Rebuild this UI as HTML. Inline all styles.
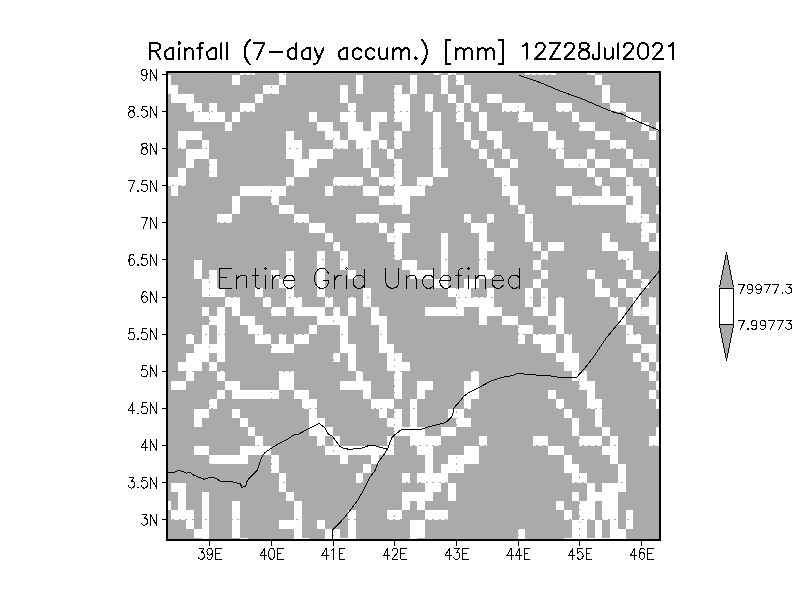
<!DOCTYPE html>
<html><head><meta charset="utf-8"><style>
html,body{margin:0;padding:0;background:#fff;width:792px;height:612px;overflow:hidden}
svg{display:block}
text{font-family:"Liberation Sans",sans-serif;fill:#000}
</style></head><body>
<svg width="792" height="612" viewBox="0 0 792 612">
<rect x="0" y="0" width="792" height="612" fill="#fff"/>
<rect x="168" y="73" width="491" height="466" fill="#aaaaaa"/>
<rect x="168" y="538" width="491" height="1" fill="#afafaf"/>
<rect x="168" y="73" width="491" height="1" fill="#afafaf"/>
<g fill="#fff" shape-rendering="crispEdges">
<rect x="240" y="73" width="15" height="2"/>
<rect x="279" y="73" width="7" height="2"/>
<rect x="433" y="73" width="8" height="2"/>
<rect x="448" y="73" width="8" height="2"/>
<rect x="525" y="73" width="31" height="2"/>
<rect x="587" y="73" width="8" height="2"/>
<rect x="168" y="75" width="3" height="10"/>
<rect x="232" y="75" width="8" height="10"/>
<rect x="279" y="75" width="7" height="10"/>
<rect x="356" y="75" width="7" height="10"/>
<rect x="410" y="75" width="7" height="10"/>
<rect x="441" y="75" width="7" height="10"/>
<rect x="456" y="75" width="8" height="10"/>
<rect x="595" y="75" width="7" height="10"/>
<rect x="168" y="85" width="10" height="9"/>
<rect x="263" y="85" width="16" height="9"/>
<rect x="340" y="85" width="8" height="9"/>
<rect x="356" y="85" width="7" height="9"/>
<rect x="394" y="85" width="8" height="9"/>
<rect x="410" y="85" width="7" height="9"/>
<rect x="441" y="85" width="7" height="9"/>
<rect x="464" y="85" width="7" height="9"/>
<rect x="602" y="85" width="8" height="9"/>
<rect x="171" y="94" width="23" height="9"/>
<rect x="255" y="94" width="8" height="9"/>
<rect x="340" y="94" width="8" height="9"/>
<rect x="394" y="94" width="16" height="9"/>
<rect x="425" y="94" width="8" height="9"/>
<rect x="448" y="94" width="8" height="9"/>
<rect x="464" y="94" width="7" height="9"/>
<rect x="487" y="94" width="15" height="9"/>
<rect x="602" y="94" width="8" height="9"/>
<rect x="186" y="103" width="16" height="9"/>
<rect x="209" y="103" width="8" height="9"/>
<rect x="240" y="103" width="15" height="9"/>
<rect x="348" y="103" width="8" height="9"/>
<rect x="394" y="103" width="16" height="9"/>
<rect x="425" y="103" width="8" height="9"/>
<rect x="456" y="103" width="8" height="9"/>
<rect x="471" y="103" width="8" height="9"/>
<rect x="502" y="103" width="23" height="9"/>
<rect x="556" y="103" width="16" height="9"/>
<rect x="610" y="103" width="16" height="9"/>
<rect x="194" y="112" width="31" height="10"/>
<rect x="232" y="112" width="8" height="10"/>
<rect x="309" y="112" width="8" height="10"/>
<rect x="340" y="112" width="16" height="10"/>
<rect x="371" y="112" width="16" height="10"/>
<rect x="394" y="112" width="16" height="10"/>
<rect x="433" y="112" width="8" height="10"/>
<rect x="456" y="112" width="8" height="10"/>
<rect x="479" y="112" width="8" height="10"/>
<rect x="518" y="112" width="15" height="10"/>
<rect x="572" y="112" width="7" height="10"/>
<rect x="626" y="112" width="15" height="10"/>
<rect x="225" y="122" width="7" height="9"/>
<rect x="317" y="122" width="16" height="9"/>
<rect x="348" y="122" width="15" height="9"/>
<rect x="371" y="122" width="8" height="9"/>
<rect x="402" y="122" width="8" height="9"/>
<rect x="433" y="122" width="8" height="9"/>
<rect x="464" y="122" width="7" height="9"/>
<rect x="479" y="122" width="8" height="9"/>
<rect x="533" y="122" width="15" height="9"/>
<rect x="579" y="122" width="16" height="9"/>
<rect x="641" y="122" width="8" height="9"/>
<rect x="656" y="122" width="3" height="9"/>
<rect x="178" y="131" width="24" height="9"/>
<rect x="286" y="131" width="8" height="9"/>
<rect x="325" y="131" width="15" height="9"/>
<rect x="348" y="131" width="31" height="9"/>
<rect x="394" y="131" width="8" height="9"/>
<rect x="433" y="131" width="8" height="9"/>
<rect x="464" y="131" width="7" height="9"/>
<rect x="487" y="131" width="15" height="9"/>
<rect x="548" y="131" width="8" height="9"/>
<rect x="595" y="131" width="15" height="9"/>
<rect x="649" y="131" width="7" height="9"/>
<rect x="178" y="140" width="8" height="9"/>
<rect x="202" y="140" width="7" height="9"/>
<rect x="286" y="140" width="16" height="9"/>
<rect x="333" y="140" width="15" height="9"/>
<rect x="356" y="140" width="15" height="9"/>
<rect x="379" y="140" width="8" height="9"/>
<rect x="394" y="140" width="8" height="9"/>
<rect x="433" y="140" width="8" height="9"/>
<rect x="471" y="140" width="8" height="9"/>
<rect x="494" y="140" width="8" height="9"/>
<rect x="548" y="140" width="16" height="9"/>
<rect x="610" y="140" width="16" height="9"/>
<rect x="186" y="149" width="23" height="10"/>
<rect x="286" y="149" width="16" height="10"/>
<rect x="309" y="149" width="24" height="10"/>
<rect x="363" y="149" width="8" height="10"/>
<rect x="387" y="149" width="7" height="10"/>
<rect x="433" y="149" width="8" height="10"/>
<rect x="479" y="149" width="8" height="10"/>
<rect x="502" y="149" width="8" height="10"/>
<rect x="556" y="149" width="8" height="10"/>
<rect x="587" y="149" width="8" height="10"/>
<rect x="626" y="149" width="7" height="10"/>
<rect x="186" y="159" width="8" height="9"/>
<rect x="209" y="159" width="8" height="9"/>
<rect x="294" y="159" width="23" height="9"/>
<rect x="363" y="159" width="8" height="9"/>
<rect x="394" y="159" width="8" height="9"/>
<rect x="433" y="159" width="8" height="9"/>
<rect x="487" y="159" width="7" height="9"/>
<rect x="510" y="159" width="8" height="9"/>
<rect x="564" y="159" width="23" height="9"/>
<rect x="595" y="159" width="15" height="9"/>
<rect x="633" y="159" width="16" height="9"/>
<rect x="178" y="168" width="8" height="9"/>
<rect x="209" y="168" width="8" height="9"/>
<rect x="294" y="168" width="15" height="9"/>
<rect x="371" y="168" width="8" height="9"/>
<rect x="394" y="168" width="8" height="9"/>
<rect x="433" y="168" width="15" height="9"/>
<rect x="494" y="168" width="16" height="9"/>
<rect x="587" y="168" width="8" height="9"/>
<rect x="610" y="168" width="16" height="9"/>
<rect x="649" y="168" width="7" height="9"/>
<rect x="168" y="177" width="18" height="9"/>
<rect x="286" y="177" width="8" height="9"/>
<rect x="333" y="177" width="30" height="9"/>
<rect x="379" y="177" width="23" height="9"/>
<rect x="417" y="177" width="16" height="9"/>
<rect x="502" y="177" width="8" height="9"/>
<rect x="595" y="177" width="7" height="9"/>
<rect x="626" y="177" width="7" height="9"/>
<rect x="656" y="177" width="3" height="9"/>
<rect x="171" y="186" width="7" height="10"/>
<rect x="240" y="186" width="46" height="10"/>
<rect x="325" y="186" width="8" height="10"/>
<rect x="363" y="186" width="16" height="10"/>
<rect x="394" y="186" width="31" height="10"/>
<rect x="502" y="186" width="16" height="10"/>
<rect x="556" y="186" width="16" height="10"/>
<rect x="602" y="186" width="8" height="10"/>
<rect x="626" y="186" width="15" height="10"/>
<rect x="232" y="196" width="8" height="9"/>
<rect x="271" y="196" width="8" height="9"/>
<rect x="379" y="196" width="31" height="9"/>
<rect x="510" y="196" width="8" height="9"/>
<rect x="572" y="196" width="54" height="9"/>
<rect x="633" y="196" width="8" height="9"/>
<rect x="232" y="205" width="8" height="9"/>
<rect x="279" y="205" width="15" height="9"/>
<rect x="402" y="205" width="8" height="9"/>
<rect x="518" y="205" width="7" height="9"/>
<rect x="626" y="205" width="15" height="9"/>
<rect x="656" y="205" width="3" height="9"/>
<rect x="217" y="214" width="15" height="9"/>
<rect x="294" y="214" width="15" height="9"/>
<rect x="356" y="214" width="23" height="9"/>
<rect x="464" y="214" width="7" height="9"/>
<rect x="487" y="214" width="7" height="9"/>
<rect x="525" y="214" width="8" height="9"/>
<rect x="626" y="214" width="23" height="9"/>
<rect x="309" y="223" width="16" height="10"/>
<rect x="379" y="223" width="8" height="10"/>
<rect x="394" y="223" width="16" height="10"/>
<rect x="471" y="223" width="16" height="10"/>
<rect x="525" y="223" width="8" height="10"/>
<rect x="641" y="223" width="15" height="10"/>
<rect x="325" y="233" width="8" height="9"/>
<rect x="387" y="233" width="15" height="9"/>
<rect x="441" y="233" width="7" height="9"/>
<rect x="479" y="233" width="8" height="9"/>
<rect x="525" y="233" width="8" height="9"/>
<rect x="602" y="233" width="8" height="9"/>
<rect x="641" y="233" width="8" height="9"/>
<rect x="656" y="233" width="3" height="9"/>
<rect x="333" y="242" width="7" height="9"/>
<rect x="394" y="242" width="8" height="9"/>
<rect x="441" y="242" width="7" height="9"/>
<rect x="479" y="242" width="15" height="9"/>
<rect x="533" y="242" width="8" height="9"/>
<rect x="548" y="242" width="16" height="9"/>
<rect x="602" y="242" width="16" height="9"/>
<rect x="649" y="242" width="10" height="9"/>
<rect x="286" y="251" width="8" height="9"/>
<rect x="317" y="251" width="8" height="9"/>
<rect x="340" y="251" width="8" height="9"/>
<rect x="394" y="251" width="8" height="9"/>
<rect x="441" y="251" width="7" height="9"/>
<rect x="479" y="251" width="8" height="9"/>
<rect x="541" y="251" width="7" height="9"/>
<rect x="618" y="251" width="15" height="9"/>
<rect x="194" y="260" width="8" height="10"/>
<rect x="286" y="260" width="8" height="10"/>
<rect x="317" y="260" width="8" height="10"/>
<rect x="340" y="260" width="8" height="10"/>
<rect x="402" y="260" width="15" height="10"/>
<rect x="441" y="260" width="7" height="10"/>
<rect x="479" y="260" width="8" height="10"/>
<rect x="533" y="260" width="8" height="10"/>
<rect x="626" y="260" width="7" height="10"/>
<rect x="194" y="270" width="8" height="9"/>
<rect x="209" y="270" width="8" height="9"/>
<rect x="271" y="270" width="8" height="9"/>
<rect x="286" y="270" width="8" height="9"/>
<rect x="317" y="270" width="8" height="9"/>
<rect x="348" y="270" width="8" height="9"/>
<rect x="410" y="270" width="23" height="9"/>
<rect x="441" y="270" width="7" height="9"/>
<rect x="479" y="270" width="15" height="9"/>
<rect x="541" y="270" width="7" height="9"/>
<rect x="587" y="270" width="8" height="9"/>
<rect x="633" y="270" width="8" height="9"/>
<rect x="202" y="279" width="15" height="9"/>
<rect x="279" y="279" width="15" height="9"/>
<rect x="317" y="279" width="8" height="9"/>
<rect x="433" y="279" width="15" height="9"/>
<rect x="464" y="279" width="15" height="9"/>
<rect x="533" y="279" width="8" height="9"/>
<rect x="595" y="279" width="7" height="9"/>
<rect x="618" y="279" width="8" height="9"/>
<rect x="641" y="279" width="8" height="9"/>
<rect x="202" y="288" width="23" height="9"/>
<rect x="255" y="288" width="8" height="9"/>
<rect x="286" y="288" width="8" height="9"/>
<rect x="317" y="288" width="8" height="9"/>
<rect x="363" y="288" width="8" height="9"/>
<rect x="448" y="288" width="23" height="9"/>
<rect x="487" y="288" width="7" height="9"/>
<rect x="525" y="288" width="8" height="9"/>
<rect x="541" y="288" width="7" height="9"/>
<rect x="595" y="288" width="15" height="9"/>
<rect x="626" y="288" width="15" height="9"/>
<rect x="225" y="297" width="15" height="10"/>
<rect x="263" y="297" width="8" height="10"/>
<rect x="286" y="297" width="16" height="10"/>
<rect x="325" y="297" width="8" height="10"/>
<rect x="348" y="297" width="8" height="10"/>
<rect x="363" y="297" width="8" height="10"/>
<rect x="456" y="297" width="38" height="10"/>
<rect x="525" y="297" width="8" height="10"/>
<rect x="541" y="297" width="7" height="10"/>
<rect x="556" y="297" width="8" height="10"/>
<rect x="610" y="297" width="8" height="10"/>
<rect x="633" y="297" width="8" height="10"/>
<rect x="649" y="297" width="7" height="10"/>
<rect x="202" y="307" width="7" height="9"/>
<rect x="217" y="307" width="8" height="9"/>
<rect x="232" y="307" width="8" height="9"/>
<rect x="271" y="307" width="15" height="9"/>
<rect x="294" y="307" width="31" height="9"/>
<rect x="333" y="307" width="7" height="9"/>
<rect x="348" y="307" width="8" height="9"/>
<rect x="371" y="307" width="8" height="9"/>
<rect x="425" y="307" width="39" height="9"/>
<rect x="479" y="307" width="23" height="9"/>
<rect x="533" y="307" width="15" height="9"/>
<rect x="556" y="307" width="8" height="9"/>
<rect x="618" y="307" width="8" height="9"/>
<rect x="633" y="307" width="23" height="9"/>
<rect x="209" y="316" width="16" height="9"/>
<rect x="240" y="316" width="15" height="9"/>
<rect x="317" y="316" width="31" height="9"/>
<rect x="371" y="316" width="16" height="9"/>
<rect x="479" y="316" width="8" height="9"/>
<rect x="502" y="316" width="16" height="9"/>
<rect x="548" y="316" width="16" height="9"/>
<rect x="618" y="316" width="8" height="9"/>
<rect x="649" y="316" width="7" height="9"/>
<rect x="202" y="325" width="7" height="9"/>
<rect x="217" y="325" width="8" height="9"/>
<rect x="248" y="325" width="15" height="9"/>
<rect x="309" y="325" width="8" height="9"/>
<rect x="340" y="325" width="8" height="9"/>
<rect x="379" y="325" width="8" height="9"/>
<rect x="518" y="325" width="15" height="9"/>
<rect x="556" y="325" width="8" height="9"/>
<rect x="626" y="325" width="7" height="9"/>
<rect x="656" y="325" width="3" height="9"/>
<rect x="186" y="334" width="8" height="10"/>
<rect x="202" y="334" width="7" height="10"/>
<rect x="217" y="334" width="8" height="10"/>
<rect x="255" y="334" width="16" height="10"/>
<rect x="279" y="334" width="7" height="10"/>
<rect x="294" y="334" width="15" height="10"/>
<rect x="340" y="334" width="8" height="10"/>
<rect x="379" y="334" width="8" height="10"/>
<rect x="518" y="334" width="7" height="10"/>
<rect x="533" y="334" width="23" height="10"/>
<rect x="564" y="334" width="8" height="10"/>
<rect x="626" y="334" width="15" height="10"/>
<rect x="194" y="344" width="31" height="9"/>
<rect x="271" y="344" width="23" height="9"/>
<rect x="340" y="344" width="16" height="9"/>
<rect x="379" y="344" width="15" height="9"/>
<rect x="541" y="344" width="15" height="9"/>
<rect x="564" y="344" width="8" height="9"/>
<rect x="641" y="344" width="15" height="9"/>
<rect x="186" y="353" width="23" height="9"/>
<rect x="217" y="353" width="8" height="9"/>
<rect x="333" y="353" width="7" height="9"/>
<rect x="348" y="353" width="8" height="9"/>
<rect x="387" y="353" width="15" height="9"/>
<rect x="556" y="353" width="23" height="9"/>
<rect x="633" y="353" width="8" height="9"/>
<rect x="649" y="353" width="7" height="9"/>
<rect x="178" y="362" width="24" height="9"/>
<rect x="209" y="362" width="8" height="9"/>
<rect x="348" y="362" width="8" height="9"/>
<rect x="387" y="362" width="23" height="9"/>
<rect x="564" y="362" width="15" height="9"/>
<rect x="641" y="362" width="8" height="9"/>
<rect x="656" y="362" width="3" height="9"/>
<rect x="186" y="371" width="8" height="10"/>
<rect x="217" y="371" width="8" height="10"/>
<rect x="279" y="371" width="15" height="10"/>
<rect x="356" y="371" width="7" height="10"/>
<rect x="394" y="371" width="8" height="10"/>
<rect x="471" y="371" width="8" height="10"/>
<rect x="572" y="371" width="15" height="10"/>
<rect x="649" y="371" width="7" height="10"/>
<rect x="171" y="381" width="15" height="9"/>
<rect x="225" y="381" width="15" height="9"/>
<rect x="279" y="381" width="15" height="9"/>
<rect x="340" y="381" width="31" height="9"/>
<rect x="394" y="381" width="8" height="9"/>
<rect x="417" y="381" width="16" height="9"/>
<rect x="464" y="381" width="15" height="9"/>
<rect x="579" y="381" width="16" height="9"/>
<rect x="656" y="381" width="3" height="9"/>
<rect x="217" y="390" width="8" height="9"/>
<rect x="232" y="390" width="47" height="9"/>
<rect x="294" y="390" width="15" height="9"/>
<rect x="363" y="390" width="8" height="9"/>
<rect x="394" y="390" width="8" height="9"/>
<rect x="417" y="390" width="8" height="9"/>
<rect x="464" y="390" width="15" height="9"/>
<rect x="548" y="390" width="8" height="9"/>
<rect x="587" y="390" width="8" height="9"/>
<rect x="649" y="390" width="7" height="9"/>
<rect x="209" y="399" width="8" height="10"/>
<rect x="302" y="399" width="15" height="10"/>
<rect x="371" y="399" width="23" height="10"/>
<rect x="410" y="399" width="7" height="10"/>
<rect x="464" y="399" width="7" height="10"/>
<rect x="556" y="399" width="8" height="10"/>
<rect x="587" y="399" width="15" height="10"/>
<rect x="656" y="399" width="3" height="10"/>
<rect x="194" y="409" width="15" height="9"/>
<rect x="232" y="409" width="8" height="9"/>
<rect x="309" y="409" width="8" height="9"/>
<rect x="379" y="409" width="8" height="9"/>
<rect x="394" y="409" width="8" height="9"/>
<rect x="410" y="409" width="7" height="9"/>
<rect x="448" y="409" width="16" height="9"/>
<rect x="564" y="409" width="8" height="9"/>
<rect x="595" y="409" width="7" height="9"/>
<rect x="194" y="418" width="8" height="9"/>
<rect x="240" y="418" width="8" height="9"/>
<rect x="309" y="418" width="16" height="9"/>
<rect x="387" y="418" width="15" height="9"/>
<rect x="410" y="418" width="7" height="9"/>
<rect x="456" y="418" width="15" height="9"/>
<rect x="572" y="418" width="7" height="9"/>
<rect x="595" y="418" width="7" height="9"/>
<rect x="248" y="427" width="7" height="9"/>
<rect x="309" y="427" width="24" height="9"/>
<rect x="394" y="427" width="31" height="9"/>
<rect x="441" y="427" width="15" height="9"/>
<rect x="572" y="427" width="7" height="9"/>
<rect x="602" y="427" width="8" height="9"/>
<rect x="656" y="427" width="3" height="9"/>
<rect x="255" y="436" width="8" height="10"/>
<rect x="317" y="436" width="8" height="10"/>
<rect x="333" y="436" width="7" height="10"/>
<rect x="387" y="436" width="7" height="10"/>
<rect x="410" y="436" width="31" height="10"/>
<rect x="479" y="436" width="8" height="10"/>
<rect x="533" y="436" width="15" height="10"/>
<rect x="579" y="436" width="23" height="10"/>
<rect x="610" y="436" width="8" height="10"/>
<rect x="649" y="436" width="10" height="10"/>
<rect x="194" y="446" width="15" height="9"/>
<rect x="240" y="446" width="31" height="9"/>
<rect x="325" y="446" width="69" height="9"/>
<rect x="417" y="446" width="16" height="9"/>
<rect x="464" y="446" width="15" height="9"/>
<rect x="548" y="446" width="16" height="9"/>
<rect x="602" y="446" width="16" height="9"/>
<rect x="209" y="455" width="39" height="9"/>
<rect x="271" y="455" width="8" height="9"/>
<rect x="340" y="455" width="8" height="9"/>
<rect x="371" y="455" width="8" height="9"/>
<rect x="425" y="455" width="8" height="9"/>
<rect x="448" y="455" width="31" height="9"/>
<rect x="564" y="455" width="8" height="9"/>
<rect x="610" y="455" width="8" height="9"/>
<rect x="271" y="464" width="8" height="9"/>
<rect x="363" y="464" width="8" height="9"/>
<rect x="425" y="464" width="8" height="9"/>
<rect x="441" y="464" width="23" height="9"/>
<rect x="564" y="464" width="15" height="9"/>
<rect x="618" y="464" width="8" height="9"/>
<rect x="279" y="473" width="7" height="10"/>
<rect x="356" y="473" width="7" height="10"/>
<rect x="402" y="473" width="8" height="10"/>
<rect x="417" y="473" width="31" height="10"/>
<rect x="572" y="473" width="15" height="10"/>
<rect x="618" y="473" width="8" height="10"/>
<rect x="171" y="483" width="15" height="9"/>
<rect x="279" y="483" width="7" height="9"/>
<rect x="425" y="483" width="16" height="9"/>
<rect x="448" y="483" width="8" height="9"/>
<rect x="587" y="483" width="8" height="9"/>
<rect x="602" y="483" width="24" height="9"/>
<rect x="178" y="492" width="8" height="9"/>
<rect x="202" y="492" width="7" height="9"/>
<rect x="286" y="492" width="8" height="9"/>
<rect x="402" y="492" width="31" height="9"/>
<rect x="448" y="492" width="8" height="9"/>
<rect x="572" y="492" width="7" height="9"/>
<rect x="587" y="492" width="31" height="9"/>
<rect x="168" y="501" width="3" height="9"/>
<rect x="178" y="501" width="8" height="9"/>
<rect x="202" y="501" width="7" height="9"/>
<rect x="232" y="501" width="8" height="9"/>
<rect x="294" y="501" width="8" height="9"/>
<rect x="402" y="501" width="8" height="9"/>
<rect x="417" y="501" width="8" height="9"/>
<rect x="556" y="501" width="8" height="9"/>
<rect x="579" y="501" width="16" height="9"/>
<rect x="602" y="501" width="16" height="9"/>
<rect x="171" y="510" width="23" height="10"/>
<rect x="202" y="510" width="7" height="10"/>
<rect x="232" y="510" width="8" height="10"/>
<rect x="294" y="510" width="8" height="10"/>
<rect x="348" y="510" width="8" height="10"/>
<rect x="387" y="510" width="15" height="10"/>
<rect x="425" y="510" width="23" height="10"/>
<rect x="564" y="510" width="8" height="10"/>
<rect x="579" y="510" width="16" height="10"/>
<rect x="602" y="510" width="16" height="10"/>
<rect x="626" y="510" width="7" height="10"/>
<rect x="186" y="520" width="8" height="9"/>
<rect x="202" y="520" width="7" height="9"/>
<rect x="232" y="520" width="8" height="9"/>
<rect x="279" y="520" width="23" height="9"/>
<rect x="317" y="520" width="8" height="9"/>
<rect x="348" y="520" width="8" height="9"/>
<rect x="410" y="520" width="15" height="9"/>
<rect x="572" y="520" width="15" height="9"/>
<rect x="595" y="520" width="7" height="9"/>
<rect x="610" y="520" width="8" height="9"/>
<rect x="626" y="520" width="7" height="9"/>
<rect x="194" y="529" width="15" height="9"/>
<rect x="232" y="529" width="8" height="9"/>
<rect x="294" y="529" width="8" height="9"/>
<rect x="325" y="529" width="15" height="9"/>
<rect x="348" y="529" width="8" height="9"/>
<rect x="410" y="529" width="15" height="9"/>
<rect x="518" y="529" width="7" height="9"/>
<rect x="572" y="529" width="15" height="9"/>
<rect x="595" y="529" width="7" height="9"/>
<rect x="610" y="529" width="16" height="9"/>
<rect x="202" y="538" width="7" height="1"/>
<rect x="240" y="538" width="8" height="1"/>
<rect x="294" y="538" width="15" height="1"/>
<rect x="325" y="538" width="31" height="1"/>
<rect x="410" y="538" width="7" height="1"/>
<rect x="518" y="538" width="7" height="1"/>
<rect x="564" y="538" width="62" height="1"/>
</g>
<g stroke="#aaaaaa" stroke-width="1" stroke-dasharray="1.5 5" shape-rendering="crispEdges">
<line x1="209.5" y1="73" x2="209.5" y2="539"/>
<line x1="271.5" y1="73" x2="271.5" y2="539"/>
<line x1="333.5" y1="73" x2="333.5" y2="539"/>
<line x1="394.5" y1="73" x2="394.5" y2="539"/>
<line x1="456.5" y1="73" x2="456.5" y2="539"/>
<line x1="518.5" y1="73" x2="518.5" y2="539"/>
<line x1="579.5" y1="73" x2="579.5" y2="539"/>
<line x1="641.5" y1="73" x2="641.5" y2="539"/>
<line x1="168" y1="74.5" x2="659" y2="74.5" stroke-dasharray="2 4.5" stroke-dashoffset="2.5"/>
<line x1="168" y1="111.5" x2="659" y2="111.5" stroke-dasharray="2 4.5" stroke-dashoffset="2.5"/>
<line x1="168" y1="148.5" x2="659" y2="148.5" stroke-dasharray="2 4.5" stroke-dashoffset="2.5"/>
<line x1="168" y1="185.5" x2="659" y2="185.5" stroke-dasharray="2 4.5" stroke-dashoffset="2.5"/>
<line x1="168" y1="222.5" x2="659" y2="222.5" stroke-dasharray="2 4.5" stroke-dashoffset="2.5"/>
<line x1="168" y1="259.5" x2="659" y2="259.5" stroke-dasharray="2 4.5" stroke-dashoffset="2.5"/>
<line x1="168" y1="297.5" x2="659" y2="297.5" stroke-dasharray="2 4.5" stroke-dashoffset="2.5"/>
<line x1="168" y1="334.5" x2="659" y2="334.5" stroke-dasharray="2 4.5" stroke-dashoffset="2.5"/>
<line x1="168" y1="371.5" x2="659" y2="371.5" stroke-dasharray="2 4.5" stroke-dashoffset="2.5"/>
<line x1="168" y1="408.5" x2="659" y2="408.5" stroke-dasharray="2 4.5" stroke-dashoffset="2.5"/>
<line x1="168" y1="445.5" x2="659" y2="445.5" stroke-dasharray="2 4.5" stroke-dashoffset="2.5"/>
<line x1="168" y1="482.5" x2="659" y2="482.5" stroke-dasharray="2 4.5" stroke-dashoffset="2.5"/>
<line x1="168" y1="519.5" x2="659" y2="519.5" stroke-dasharray="2 4.5" stroke-dashoffset="2.5"/>
</g>
<g fill="none" stroke="#000" stroke-width="1" stroke-linejoin="round" shape-rendering="crispEdges">
<polyline points="519.1,75.3 540.3,82.6 560.5,91.2 580.7,98.3 590,102.3 607.8,109.9 615.3,112.7 621,113.7 626.7,116.5 641.8,123.1 659,130.3"/>
<polyline points="168,472.3 174.5,472.3 179.1,470.1 182.5,471.5 186.5,473.2 189.9,472.3 193.3,474.9 200.1,477.7 204.1,479.2 209.2,477.7 213.7,477.2 217.1,478.9 220.5,481.4 231.9,481.4 235.3,482.8 239.9,483.4 241.9,487.4 245.5,486.3 247.3,480.6 252.4,474.9 257.1,470.4 259.1,464.5 262.1,456.4 265.2,452.4 271.2,448.3 278.3,443.8 287.4,439.2 294.4,434.7 298.5,434.2 307.6,429.1 319.2,423.6 324.7,427.6 328,433.6 332.1,436.2 336.1,441.2 340.2,446.8 343.2,448.3 349.2,449.3 361.4,448.3 369.4,445.3 375.5,445.8 381.6,447.8 387.5,448.8"/>
<polyline points="387.5,448.8 388.6,446.3 391.7,437.7 395.7,434.1 400.8,430.1 405,429.1 421.8,429 432.3,425.8 444,423.2 448,420.6 451.9,416.6 453.2,412.1 453.9,408.1 458.4,402.9 463.7,396.4 468.9,392.5 479.9,387 491.3,380.9 502.8,377.2 512.7,375.5 517.6,373.1 522.5,373.9 535.7,375 550.5,375.9 558.7,377.2 576.7,377.2 584.9,368.1 593.2,357.5 605.6,338.8 621.9,319.2 639.9,294.7 659,271.5"/>
<polyline points="387.5,448.8 383,456 378.3,462.3 375.2,470.1 370.5,476.4 364.2,488.9 357.9,499.9 348.5,512.5 340.7,521.9 332.8,529.7 332.5,539"/>
</g>
<g fill="none" stroke="#000" stroke-width="2" shape-rendering="crispEdges">
<rect x="167" y="72" width="493" height="468"/>
</g>
<g stroke="#000" stroke-width="1" shape-rendering="crispEdges">
<line x1="209.5" y1="541" x2="209.5" y2="546"/>
<line x1="271.5" y1="541" x2="271.5" y2="546"/>
<line x1="333.5" y1="541" x2="333.5" y2="546"/>
<line x1="394.5" y1="541" x2="394.5" y2="546"/>
<line x1="456.5" y1="541" x2="456.5" y2="546"/>
<line x1="518.5" y1="541" x2="518.5" y2="546"/>
<line x1="579.5" y1="541" x2="579.5" y2="546"/>
<line x1="641.5" y1="541" x2="641.5" y2="546"/>
<line x1="162" y1="74.5" x2="166" y2="74.5"/>
<line x1="162" y1="111.5" x2="166" y2="111.5"/>
<line x1="162" y1="148.5" x2="166" y2="148.5"/>
<line x1="162" y1="185.5" x2="166" y2="185.5"/>
<line x1="162" y1="222.5" x2="166" y2="222.5"/>
<line x1="162" y1="259.5" x2="166" y2="259.5"/>
<line x1="162" y1="297.5" x2="166" y2="297.5"/>
<line x1="162" y1="334.5" x2="166" y2="334.5"/>
<line x1="162" y1="371.5" x2="166" y2="371.5"/>
<line x1="162" y1="408.5" x2="166" y2="408.5"/>
<line x1="162" y1="445.5" x2="166" y2="445.5"/>
<line x1="162" y1="482.5" x2="166" y2="482.5"/>
<line x1="162" y1="519.5" x2="166" y2="519.5"/>
</g>
<g fill="none" stroke="#000" stroke-width="1" stroke-linecap="round" stroke-linejoin="round" shape-rendering="crispEdges">
<path d="M199.29,548.30 L203.96,548.30 L201.41,552.49 L202.69,552.49 L203.54,553.01 L203.96,553.54 L204.39,555.11 L204.39,556.16 L203.96,557.73 L203.11,558.78 L201.84,559.30 L200.56,559.30 L199.29,558.78 L198.86,558.25 L198.44,557.20 M212.46,551.96 L212.04,553.54 L211.19,554.58 L209.91,555.11 L209.49,555.11 L208.21,554.58 L207.36,553.54 L206.94,551.96 L206.94,551.44 L207.36,549.87 L208.21,548.82 L209.49,548.30 L209.91,548.30 L211.19,548.82 L212.04,549.87 L212.46,551.96 L212.46,554.58 L212.04,557.20 L211.19,558.78 L209.91,559.30 L209.06,559.30 L207.79,558.78 L207.36,557.73 M215.86,548.30 L215.86,559.30 M215.86,548.30 L221.39,548.30 M215.86,553.54 L219.26,553.54 M215.86,559.30 L221.39,559.30 M264.39,548.30 L260.14,555.63 L266.51,555.63 M264.39,548.30 L264.39,559.30 M271.19,548.30 L269.91,548.82 L269.06,550.39 L268.64,553.01 L268.64,554.58 L269.06,557.20 L269.91,558.78 L271.19,559.30 L272.04,559.30 L273.31,558.78 L274.16,557.20 L274.59,554.58 L274.59,553.01 L274.16,550.39 L273.31,548.82 L272.04,548.30 L271.19,548.30 M277.56,548.30 L277.56,559.30 M277.56,548.30 L283.09,548.30 M277.56,553.54 L280.96,553.54 M277.56,559.30 L283.09,559.30 M326.09,548.30 L321.84,555.63 L328.21,555.63 M326.09,548.30 L326.09,559.30 M331.61,550.39 L332.46,549.87 L333.74,548.30 L333.74,559.30 M339.26,548.30 L339.26,559.30 M339.26,548.30 L344.79,548.30 M339.26,553.54 L342.66,553.54 M339.26,559.30 L344.79,559.30 M387.79,548.30 L383.54,555.63 L389.91,555.63 M387.79,548.30 L387.79,559.30 M392.46,550.92 L392.46,550.39 L392.89,549.34 L393.31,548.82 L394.16,548.30 L395.86,548.30 L396.71,548.82 L397.14,549.34 L397.56,550.39 L397.56,551.44 L397.14,552.49 L396.29,554.06 L392.04,559.30 L397.99,559.30 M400.96,548.30 L400.96,559.30 M400.96,548.30 L406.49,548.30 M400.96,553.54 L404.36,553.54 M400.96,559.30 L406.49,559.30 M449.49,548.30 L445.24,555.63 L451.61,555.63 M449.49,548.30 L449.49,559.30 M454.59,548.30 L459.26,548.30 L456.71,552.49 L457.99,552.49 L458.84,553.01 L459.26,553.54 L459.69,555.11 L459.69,556.16 L459.26,557.73 L458.41,558.78 L457.14,559.30 L455.86,559.30 L454.59,558.78 L454.16,558.25 L453.74,557.20 M462.66,548.30 L462.66,559.30 M462.66,548.30 L468.19,548.30 M462.66,553.54 L466.06,553.54 M462.66,559.30 L468.19,559.30 M511.19,548.30 L506.94,555.63 L513.31,555.63 M511.19,548.30 L511.19,559.30 M519.69,548.30 L515.44,555.63 L521.81,555.63 M519.69,548.30 L519.69,559.30 M524.36,548.30 L524.36,559.30 M524.36,548.30 L529.89,548.30 M524.36,553.54 L527.76,553.54 M524.36,559.30 L529.89,559.30 M572.89,548.30 L568.64,555.63 L575.01,555.63 M572.89,548.30 L572.89,559.30 M582.24,548.30 L577.99,548.30 L577.56,553.01 L577.99,552.49 L579.26,551.96 L580.54,551.96 L581.81,552.49 L582.66,553.54 L583.09,555.11 L583.09,556.16 L582.66,557.73 L581.81,558.78 L580.54,559.30 L579.26,559.30 L577.99,558.78 L577.56,558.25 L577.14,557.20 M586.06,548.30 L586.06,559.30 M586.06,548.30 L591.59,548.30 M586.06,553.54 L589.46,553.54 M586.06,559.30 L591.59,559.30 M634.59,548.30 L630.34,555.63 L636.71,555.63 M634.59,548.30 L634.59,559.30 M644.36,549.87 L643.94,548.82 L642.66,548.30 L641.81,548.30 L640.54,548.82 L639.69,550.39 L639.26,553.01 L639.26,555.63 L639.69,557.73 L640.54,558.78 L641.81,559.30 L642.24,559.30 L643.51,558.78 L644.36,557.73 L644.79,556.16 L644.79,555.63 L644.36,554.06 L643.51,553.01 L642.24,552.49 L641.81,552.49 L640.54,553.01 L639.69,554.06 L639.26,555.63 M647.76,548.30 L647.76,559.30 M647.76,548.30 L653.29,548.30 M647.76,553.54 L651.16,553.54 M647.76,559.30 L653.29,559.30 M147.02,72.76 L146.59,74.34 L145.73,75.38 L144.44,75.91 L144.01,75.91 L142.72,75.38 L141.86,74.34 L141.43,72.76 L141.43,72.24 L141.86,70.67 L142.72,69.62 L144.01,69.10 L144.44,69.10 L145.73,69.62 L146.59,70.67 L147.02,72.76 L147.02,75.38 L146.59,78.00 L145.73,79.58 L144.44,80.10 L143.58,80.10 L142.29,79.58 L141.86,78.53 M150.46,69.10 L150.46,80.10 M150.46,69.10 L156.48,80.10 M156.48,69.10 L156.48,80.10 M130.68,106.18 L129.39,106.70 L128.96,107.75 L128.96,108.80 L129.39,109.85 L130.25,110.37 L131.97,110.90 L133.26,111.42 L134.12,112.47 L134.55,113.52 L134.55,115.09 L134.12,116.14 L133.69,116.66 L132.40,117.19 L130.68,117.19 L129.39,116.66 L128.96,116.14 L128.53,115.09 L128.53,113.52 L128.96,112.47 L129.82,111.42 L131.11,110.90 L132.83,110.37 L133.69,109.85 L134.12,108.80 L134.12,107.75 L133.69,106.70 L132.40,106.18 L130.68,106.18 M137.99,116.14 L137.56,116.66 L137.99,117.19 L138.42,116.66 L137.99,116.14 M146.59,106.18 L142.29,106.18 L141.86,110.90 L142.29,110.37 L143.58,109.85 L144.87,109.85 L146.16,110.37 L147.02,111.42 L147.45,112.99 L147.45,114.04 L147.02,115.61 L146.16,116.66 L144.87,117.19 L143.58,117.19 L142.29,116.66 L141.86,116.14 L141.43,115.09 M150.46,106.18 L150.46,117.19 M150.46,106.18 L156.48,117.19 M156.48,106.18 L156.48,117.19 M143.58,143.27 L142.29,143.79 L141.86,144.84 L141.86,145.89 L142.29,146.93 L143.15,147.46 L144.87,147.98 L146.16,148.51 L147.02,149.55 L147.45,150.60 L147.45,152.17 L147.02,153.22 L146.59,153.75 L145.30,154.27 L143.58,154.27 L142.29,153.75 L141.86,153.22 L141.43,152.17 L141.43,150.60 L141.86,149.55 L142.72,148.51 L144.01,147.98 L145.73,147.46 L146.59,146.93 L147.02,145.89 L147.02,144.84 L146.59,143.79 L145.30,143.27 L143.58,143.27 M150.46,143.27 L150.46,154.27 M150.46,143.27 L156.48,154.27 M156.48,143.27 L156.48,154.27 M134.55,180.35 L130.25,191.35 M128.53,180.35 L134.55,180.35 M137.99,190.31 L137.56,190.83 L137.99,191.35 L138.42,190.83 L137.99,190.31 M146.59,180.35 L142.29,180.35 L141.86,185.07 L142.29,184.54 L143.58,184.02 L144.87,184.02 L146.16,184.54 L147.02,185.59 L147.45,187.16 L147.45,188.21 L147.02,189.78 L146.16,190.83 L144.87,191.35 L143.58,191.35 L142.29,190.83 L141.86,190.31 L141.43,189.26 M150.46,180.35 L150.46,191.35 M150.46,180.35 L156.48,191.35 M156.48,180.35 L156.48,191.35 M147.45,217.44 L143.15,228.44 M141.43,217.44 L147.45,217.44 M150.46,217.44 L150.46,228.44 M150.46,217.44 L156.48,228.44 M156.48,217.44 L156.48,228.44 M134.12,256.09 L133.69,255.04 L132.40,254.52 L131.54,254.52 L130.25,255.04 L129.39,256.62 L128.96,259.24 L128.96,261.86 L129.39,263.95 L130.25,265.00 L131.54,265.52 L131.97,265.52 L133.26,265.00 L134.12,263.95 L134.55,262.38 L134.55,261.86 L134.12,260.28 L133.26,259.24 L131.97,258.71 L131.54,258.71 L130.25,259.24 L129.39,260.28 L128.96,261.86 M137.99,264.48 L137.56,265.00 L137.99,265.52 L138.42,265.00 L137.99,264.48 M146.59,254.52 L142.29,254.52 L141.86,259.24 L142.29,258.71 L143.58,258.19 L144.87,258.19 L146.16,258.71 L147.02,259.76 L147.45,261.33 L147.45,262.38 L147.02,263.95 L146.16,265.00 L144.87,265.52 L143.58,265.52 L142.29,265.00 L141.86,264.48 L141.43,263.43 M150.46,254.52 L150.46,265.52 M150.46,254.52 L156.48,265.52 M156.48,254.52 L156.48,265.52 M147.02,293.18 L146.59,292.13 L145.30,291.61 L144.44,291.61 L143.15,292.13 L142.29,293.70 L141.86,296.32 L141.86,298.94 L142.29,301.04 L143.15,302.09 L144.44,302.61 L144.87,302.61 L146.16,302.09 L147.02,301.04 L147.45,299.47 L147.45,298.94 L147.02,297.37 L146.16,296.32 L144.87,295.80 L144.44,295.80 L143.15,296.32 L142.29,297.37 L141.86,298.94 M150.46,291.61 L150.46,302.61 M150.46,291.61 L156.48,302.61 M156.48,291.61 L156.48,302.61 M133.69,328.69 L129.39,328.69 L128.96,333.41 L129.39,332.88 L130.68,332.36 L131.97,332.36 L133.26,332.88 L134.12,333.93 L134.55,335.50 L134.55,336.55 L134.12,338.12 L133.26,339.17 L131.97,339.70 L130.68,339.70 L129.39,339.17 L128.96,338.65 L128.53,337.60 M137.99,338.65 L137.56,339.17 L137.99,339.70 L138.42,339.17 L137.99,338.65 M146.59,328.69 L142.29,328.69 L141.86,333.41 L142.29,332.88 L143.58,332.36 L144.87,332.36 L146.16,332.88 L147.02,333.93 L147.45,335.50 L147.45,336.55 L147.02,338.12 L146.16,339.17 L144.87,339.70 L143.58,339.70 L142.29,339.17 L141.86,338.65 L141.43,337.60 M150.46,328.69 L150.46,339.70 M150.46,328.69 L156.48,339.70 M156.48,328.69 L156.48,339.70 M146.59,365.78 L142.29,365.78 L141.86,370.49 L142.29,369.97 L143.58,369.44 L144.87,369.44 L146.16,369.97 L147.02,371.02 L147.45,372.59 L147.45,373.64 L147.02,375.21 L146.16,376.26 L144.87,376.78 L143.58,376.78 L142.29,376.26 L141.86,375.73 L141.43,374.68 M150.46,365.78 L150.46,376.78 M150.46,365.78 L156.48,376.78 M156.48,365.78 L156.48,376.78 M132.83,402.86 L128.53,410.20 L134.98,410.20 M132.83,402.86 L132.83,413.87 M137.99,412.82 L137.56,413.34 L137.99,413.87 L138.42,413.34 L137.99,412.82 M146.59,402.86 L142.29,402.86 L141.86,407.58 L142.29,407.05 L143.58,406.53 L144.87,406.53 L146.16,407.05 L147.02,408.10 L147.45,409.67 L147.45,410.72 L147.02,412.29 L146.16,413.34 L144.87,413.87 L143.58,413.87 L142.29,413.34 L141.86,412.82 L141.43,411.77 M150.46,402.86 L150.46,413.87 M150.46,402.86 L156.48,413.87 M156.48,402.86 L156.48,413.87 M145.73,439.95 L141.43,447.28 L147.88,447.28 M145.73,439.95 L145.73,450.95 M150.46,439.95 L150.46,450.95 M150.46,439.95 L156.48,450.95 M156.48,439.95 L156.48,450.95 M129.39,477.03 L134.12,477.03 L131.54,481.22 L132.83,481.22 L133.69,481.75 L134.12,482.27 L134.55,483.84 L134.55,484.89 L134.12,486.46 L133.26,487.51 L131.97,488.03 L130.68,488.03 L129.39,487.51 L128.96,486.99 L128.53,485.94 M137.99,486.99 L137.56,487.51 L137.99,488.03 L138.42,487.51 L137.99,486.99 M146.59,477.03 L142.29,477.03 L141.86,481.75 L142.29,481.22 L143.58,480.70 L144.87,480.70 L146.16,481.22 L147.02,482.27 L147.45,483.84 L147.45,484.89 L147.02,486.46 L146.16,487.51 L144.87,488.03 L143.58,488.03 L142.29,487.51 L141.86,486.99 L141.43,485.94 M150.46,477.03 L150.46,488.03 M150.46,477.03 L156.48,488.03 M156.48,477.03 L156.48,488.03 M142.29,514.12 L147.02,514.12 L144.44,518.31 L145.73,518.31 L146.59,518.83 L147.02,519.36 L147.45,520.93 L147.45,521.98 L147.02,523.55 L146.16,524.60 L144.87,525.12 L143.58,525.12 L142.29,524.60 L141.86,524.07 L141.43,523.02 M150.46,514.12 L150.46,525.12 M150.46,514.12 L156.48,525.12 M156.48,514.12 L156.48,525.12"/>
<path d="M219.50,268.50 L219.50,288.30 M219.50,268.50 L231.39,268.50 M219.50,277.93 L226.82,277.93 M219.50,288.30 L231.39,288.30 M236.88,275.10 L236.88,288.30 M236.88,278.87 L239.62,276.04 L241.45,275.10 L244.19,275.10 L246.02,276.04 L246.94,278.87 L246.94,288.30 M255.17,268.50 L255.17,284.53 L256.08,287.36 L257.91,288.30 L259.74,288.30 M252.43,275.10 L258.83,275.10 M264.32,268.50 L265.23,269.44 L266.14,268.50 L265.23,267.55 L264.32,268.50 M265.23,275.10 L265.23,288.30 M272.55,275.10 L272.55,288.30 M272.55,280.76 L273.46,277.93 L275.29,276.04 L277.12,275.10 L279.86,275.10 M283.52,280.76 L294.50,280.76 L294.50,278.87 L293.58,276.98 L292.67,276.04 L290.84,275.10 L288.10,275.10 L286.27,276.04 L284.44,277.93 L283.52,280.76 L283.52,282.64 L284.44,285.47 L286.27,287.36 L288.10,288.30 L290.84,288.30 L292.67,287.36 L294.50,285.47 M328.34,273.21 L327.42,271.33 L325.59,269.44 L323.76,268.50 L320.11,268.50 L318.28,269.44 L316.45,271.33 L315.53,273.21 L314.62,276.04 L314.62,280.76 L315.53,283.59 L316.45,285.47 L318.28,287.36 L320.11,288.30 L323.76,288.30 L325.59,287.36 L327.42,285.47 L328.34,283.59 L328.34,280.76 M323.76,280.76 L328.34,280.76 M334.74,275.10 L334.74,288.30 M334.74,280.76 L335.65,277.93 L337.48,276.04 L339.31,275.10 L342.06,275.10 M345.71,268.50 L346.63,269.44 L347.54,268.50 L346.63,267.55 L345.71,268.50 M346.63,275.10 L346.63,288.30 M364.01,268.50 L364.01,288.30 M364.01,277.93 L362.18,276.04 L360.35,275.10 L357.60,275.10 L355.78,276.04 L353.95,277.93 L353.03,280.76 L353.03,282.64 L353.95,285.47 L355.78,287.36 L357.60,288.30 L360.35,288.30 L362.18,287.36 L364.01,285.47 M385.96,268.50 L385.96,282.64 L386.87,285.47 L388.70,287.36 L391.44,288.30 L393.27,288.30 L396.02,287.36 L397.85,285.47 L398.76,282.64 L398.76,268.50 M406.08,275.10 L406.08,288.30 M406.08,278.87 L408.82,276.04 L410.65,275.10 L413.40,275.10 L415.22,276.04 L416.14,278.87 L416.14,288.30 M433.52,268.50 L433.52,288.30 M433.52,277.93 L431.69,276.04 L429.86,275.10 L427.11,275.10 L425.28,276.04 L423.46,277.93 L422.54,280.76 L422.54,282.64 L423.46,285.47 L425.28,287.36 L427.11,288.30 L429.86,288.30 L431.69,287.36 L433.52,285.47 M439.92,280.76 L450.89,280.76 L450.89,278.87 L449.98,276.98 L449.06,276.04 L447.24,275.10 L444.49,275.10 L442.66,276.04 L440.83,277.93 L439.92,280.76 L439.92,282.64 L440.83,285.47 L442.66,287.36 L444.49,288.30 L447.24,288.30 L449.06,287.36 L450.89,285.47 M462.78,268.50 L460.95,268.50 L459.13,269.44 L458.21,272.27 L458.21,288.30 M455.47,275.10 L461.87,275.10 M467.36,268.50 L468.27,269.44 L469.19,268.50 L468.27,267.55 L467.36,268.50 M468.27,275.10 L468.27,288.30 M475.59,275.10 L475.59,288.30 M475.59,278.87 L478.33,276.04 L480.16,275.10 L482.90,275.10 L484.73,276.04 L485.65,278.87 L485.65,288.30 M492.05,280.76 L503.03,280.76 L503.03,278.87 L502.11,276.98 L501.20,276.04 L499.37,275.10 L496.62,275.10 L494.79,276.04 L492.97,277.93 L492.05,280.76 L492.05,282.64 L492.97,285.47 L494.79,287.36 L496.62,288.30 L499.37,288.30 L501.20,287.36 L503.03,285.47 M519.49,268.50 L519.49,288.30 M519.49,277.93 L517.66,276.04 L515.83,275.10 L513.09,275.10 L511.26,276.04 L509.43,277.93 L508.51,280.76 L508.51,282.64 L509.43,285.47 L511.26,287.36 L513.09,288.30 L515.83,288.30 L517.66,287.36 L519.49,285.47"/>
<path d="M744.51,284.37 L740.21,293.40 M738.49,284.37 L744.51,284.37 M752.68,287.38 L752.25,288.67 L751.39,289.53 L750.10,289.96 L749.67,289.96 L748.38,289.53 L747.52,288.67 L747.09,287.38 L747.09,286.95 L747.52,285.66 L748.38,284.80 L749.67,284.37 L750.10,284.37 L751.39,284.80 L752.25,285.66 L752.68,287.38 L752.68,289.53 L752.25,291.68 L751.39,292.97 L750.10,293.40 L749.24,293.40 L747.95,292.97 L747.52,292.11 M761.28,287.38 L760.85,288.67 L759.99,289.53 L758.70,289.96 L758.27,289.96 L756.98,289.53 L756.12,288.67 L755.69,287.38 L755.69,286.95 L756.12,285.66 L756.98,284.80 L758.27,284.37 L758.70,284.37 L759.99,284.80 L760.85,285.66 L761.28,287.38 L761.28,289.53 L760.85,291.68 L759.99,292.97 L758.70,293.40 L757.84,293.40 L756.55,292.97 L756.12,292.11 M770.31,284.37 L766.01,293.40 M764.29,284.37 L770.31,284.37 M778.91,284.37 L774.61,293.40 M772.89,284.37 L778.91,284.37 M782.35,292.54 L781.92,292.97 L782.35,293.40 L782.78,292.97 L782.35,292.54 M786.65,284.37 L791.38,284.37 L788.80,287.81 L790.09,287.81 L790.95,288.24 L791.38,288.67 L791.81,289.96 L791.81,290.82 L791.38,292.11 L790.52,292.97 L789.23,293.40 L787.94,293.40 L786.65,292.97 L786.22,292.54 L785.79,291.68"/>
<path d="M744.51,320.37 L740.21,329.40 M738.49,320.37 L744.51,320.37 M747.95,328.54 L747.52,328.97 L747.95,329.40 L748.38,328.97 L747.95,328.54 M756.98,323.38 L756.55,324.67 L755.69,325.53 L754.40,325.96 L753.97,325.96 L752.68,325.53 L751.82,324.67 L751.39,323.38 L751.39,322.95 L751.82,321.66 L752.68,320.80 L753.97,320.37 L754.40,320.37 L755.69,320.80 L756.55,321.66 L756.98,323.38 L756.98,325.53 L756.55,327.68 L755.69,328.97 L754.40,329.40 L753.54,329.40 L752.25,328.97 L751.82,328.11 M765.58,323.38 L765.15,324.67 L764.29,325.53 L763.00,325.96 L762.57,325.96 L761.28,325.53 L760.42,324.67 L759.99,323.38 L759.99,322.95 L760.42,321.66 L761.28,320.80 L762.57,320.37 L763.00,320.37 L764.29,320.80 L765.15,321.66 L765.58,323.38 L765.58,325.53 L765.15,327.68 L764.29,328.97 L763.00,329.40 L762.14,329.40 L760.85,328.97 L760.42,328.11 M774.61,320.37 L770.31,329.40 M768.59,320.37 L774.61,320.37 M783.21,320.37 L778.91,329.40 M777.19,320.37 L783.21,320.37 M786.65,320.37 L791.38,320.37 L788.80,323.81 L790.09,323.81 L790.95,324.24 L791.38,324.67 L791.81,325.96 L791.81,326.82 L791.38,328.11 L790.52,328.97 L789.23,329.40 L787.94,329.40 L786.65,328.97 L786.22,328.54 L785.79,327.68"/>
</g>
<path d="M150.00,43.00 L150.00,59.00 M150.00,43.00 L156.56,43.00 L158.74,43.76 L159.47,44.52 L160.20,46.05 L160.20,47.57 L159.47,49.09 L158.74,49.86 L156.56,50.62 L150.00,50.62 M155.10,50.62 L160.20,59.00 M173.31,48.33 L173.31,59.00 M173.31,48.71 L172.58,48.33 L169.30,48.33 L164.93,52.14 L164.93,55.57 L166.75,59.00 L173.31,59.00 M178.41,43.00 L179.14,43.76 L179.86,43.00 L179.14,42.24 L178.41,43.00 M179.14,48.33 L179.14,59.00 M184.96,48.33 L184.96,59.00 M184.96,51.38 L187.15,49.09 L188.61,48.33 L190.79,48.33 L192.25,49.09 L192.98,51.38 L192.98,59.00 M203.17,43.00 L201.72,43.00 L200.26,43.76 L199.53,46.05 L199.53,59.00 M197.35,48.33 L202.44,48.33 M215.56,48.33 L215.56,59.00 M215.56,48.71 L214.83,48.33 L211.55,48.33 L207.18,52.14 L207.18,55.57 L209.00,59.00 L215.56,59.00 M221.38,43.00 L221.38,59.00 M227.21,43.00 L227.21,59.00 M249.79,39.95 L248.33,41.47 L246.88,43.76 L245.42,46.81 L244.69,50.62 L244.69,53.67 L245.42,57.48 L246.88,60.52 L248.33,62.81 L249.79,64.33 M264.36,43.00 L257.07,59.00 M254.16,43.00 L264.36,43.00 M269.46,52.14 L282.57,52.14 M296.41,43.00 L296.41,59.00 M296.41,50.62 L294.95,49.09 L293.49,48.33 L291.31,48.33 L289.85,49.09 L288.40,50.62 L287.67,52.90 L287.67,54.43 L288.40,56.71 L289.85,58.24 L291.31,59.00 L293.49,59.00 L294.95,58.24 L296.41,56.71 M310.25,48.33 L310.25,59.00 M310.25,48.71 L309.52,48.33 L306.24,48.33 L301.87,52.14 L301.87,55.57 L303.69,59.00 L310.25,59.00 M314.62,48.33 L318.99,59.00 M323.36,48.33 L318.99,59.00 L317.53,62.05 L316.08,63.57 L314.62,64.33 L313.89,64.33 M347.40,48.33 L347.40,59.00 M347.40,48.71 L346.67,48.33 L343.39,48.33 L339.02,52.14 L339.02,55.57 L340.84,59.00 L347.40,59.00 M361.24,50.62 L359.78,49.09 L358.32,48.33 L356.14,48.33 L354.68,49.09 L353.22,50.62 L352.50,52.90 L352.50,54.43 L353.22,56.71 L354.68,58.24 L356.14,59.00 L358.32,59.00 L359.78,58.24 L361.24,56.71 M374.35,50.62 L372.89,49.09 L371.43,48.33 L369.25,48.33 L367.79,49.09 L366.33,50.62 L365.61,52.90 L365.61,54.43 L366.33,56.71 L367.79,58.24 L369.25,59.00 L371.43,59.00 L372.89,58.24 L374.35,56.71 M379.45,48.33 L379.45,55.95 L380.17,58.24 L381.63,59.00 L383.82,59.00 L385.27,58.24 L387.46,55.95 M387.46,48.33 L387.46,59.00 M393.29,48.33 L393.29,59.00 M393.29,51.38 L395.47,49.09 L396.93,48.33 L399.11,48.33 L400.57,49.09 L401.30,51.38 L401.30,59.00 M401.30,51.38 L403.48,49.09 L404.94,48.33 L407.13,48.33 L408.58,49.09 L409.31,51.38 L409.31,59.00 M415.87,57.48 L415.14,58.24 L415.87,59.00 L416.59,58.24 L415.87,57.48 M421.69,39.95 L423.15,41.47 L424.61,43.76 L426.06,46.81 L426.79,50.62 L426.79,53.67 L426.06,57.48 L424.61,60.52 L423.15,62.81 L421.69,64.33 M450.47,39.95 L445.73,39.95 L445.73,64.33 L450.47,64.33 M455.93,48.33 L455.93,59.00 M455.93,51.38 L458.11,49.09 L459.57,48.33 L461.76,48.33 L463.21,49.09 L463.94,51.38 L463.94,59.00 M463.94,51.38 L466.13,49.09 L467.58,48.33 L469.77,48.33 L471.22,49.09 L471.95,51.38 L471.95,59.00 M477.78,48.33 L477.78,59.00 M477.78,51.38 L479.97,49.09 L481.42,48.33 L483.61,48.33 L485.06,49.09 L485.79,51.38 L485.79,59.00 M485.79,51.38 L487.98,49.09 L489.43,48.33 L491.62,48.33 L493.08,49.09 L493.80,51.38 L493.80,59.00 M498.54,39.95 L502.98,39.95 L502.98,64.33 L498.54,64.33 M522.94,46.05 L524.40,45.28 L526.58,43.00 L526.58,59.00 M536.05,46.81 L536.05,46.05 L536.78,44.52 L537.51,43.76 L538.97,43.00 L541.88,43.00 L543.34,43.76 L544.06,44.52 L544.79,46.05 L544.79,47.57 L544.06,49.09 L542.61,51.38 L535.32,59.00 L545.52,59.00 M560.09,43.00 L549.89,59.00 M549.89,43.00 L560.09,43.00 M549.89,59.00 L560.09,59.00 M565.19,46.81 L565.19,46.05 L565.92,44.52 L566.64,43.76 L568.10,43.00 L571.02,43.00 L572.47,43.76 L573.20,44.52 L573.93,46.05 L573.93,47.57 L573.20,49.09 L571.74,51.38 L564.46,59.00 L574.66,59.00 M582.67,43.00 L580.48,43.76 L579.76,45.28 L579.76,46.81 L580.48,48.33 L581.94,49.09 L584.85,49.86 L587.04,50.62 L588.50,52.14 L589.23,53.67 L589.23,55.95 L588.50,57.48 L587.77,58.24 L585.58,59.00 L582.67,59.00 L580.48,58.24 L579.76,57.48 L579.03,55.95 L579.03,53.67 L579.76,52.14 L581.21,50.62 L583.40,49.86 L586.31,49.09 L587.77,48.33 L588.50,46.81 L588.50,45.28 L587.77,43.76 L585.58,43.00 L582.67,43.00 M599.06,43.00 L599.06,57.86 L598.33,59.00 L593.96,59.00 L593.01,57.86 L593.01,54.43 M604.52,48.33 L604.52,55.95 L605.25,58.24 L606.71,59.00 L608.89,59.00 L610.35,58.24 L612.53,55.95 M612.53,48.33 L612.53,59.00 M618.36,43.00 L618.36,59.00 M624.19,46.81 L624.19,46.05 L624.92,44.52 L625.65,43.76 L627.10,43.00 L630.02,43.00 L631.47,43.76 L632.20,44.52 L632.93,46.05 L632.93,47.57 L632.20,49.09 L630.74,51.38 L623.46,59.00 L633.66,59.00 M642.40,43.00 L640.21,43.76 L638.76,46.05 L638.03,49.86 L638.03,52.14 L638.76,55.95 L640.21,58.24 L642.40,59.00 L643.86,59.00 L646.04,58.24 L647.50,55.95 L648.23,52.14 L648.23,49.86 L647.50,46.05 L646.04,43.76 L643.86,43.00 L642.40,43.00 M653.32,46.81 L653.32,46.05 L654.05,44.52 L654.78,43.76 L656.24,43.00 L659.15,43.00 L660.61,43.76 L661.34,44.52 L662.07,46.05 L662.07,47.57 L661.34,49.09 L659.88,51.38 L652.60,59.00 L662.79,59.00 M669.35,46.05 L670.81,45.28 L672.99,43.00 L672.99,59.00" fill="none" stroke="#000" stroke-width="2" stroke-linecap="round" stroke-linejoin="round" shape-rendering="crispEdges"/>
<g shape-rendering="crispEdges">
<path d="M726.5,252 L734,288 L719,288 Z" fill="#aaaaaa"/>
<path d="M719,325 L734,325 L726.5,361 Z" fill="#aaaaaa"/>
<rect x="719.5" y="288.5" width="14" height="36" fill="#fff" stroke="#000" stroke-width="1"/>
<polyline points="719.5,287.5 726.5,252.5 733.5,287.5" fill="none" stroke="#000" stroke-width="1"/>
<polyline points="719.5,325.5 726.5,360.5 733.5,325.5" fill="none" stroke="#000" stroke-width="1"/>
</g>

</svg>
</body></html>
